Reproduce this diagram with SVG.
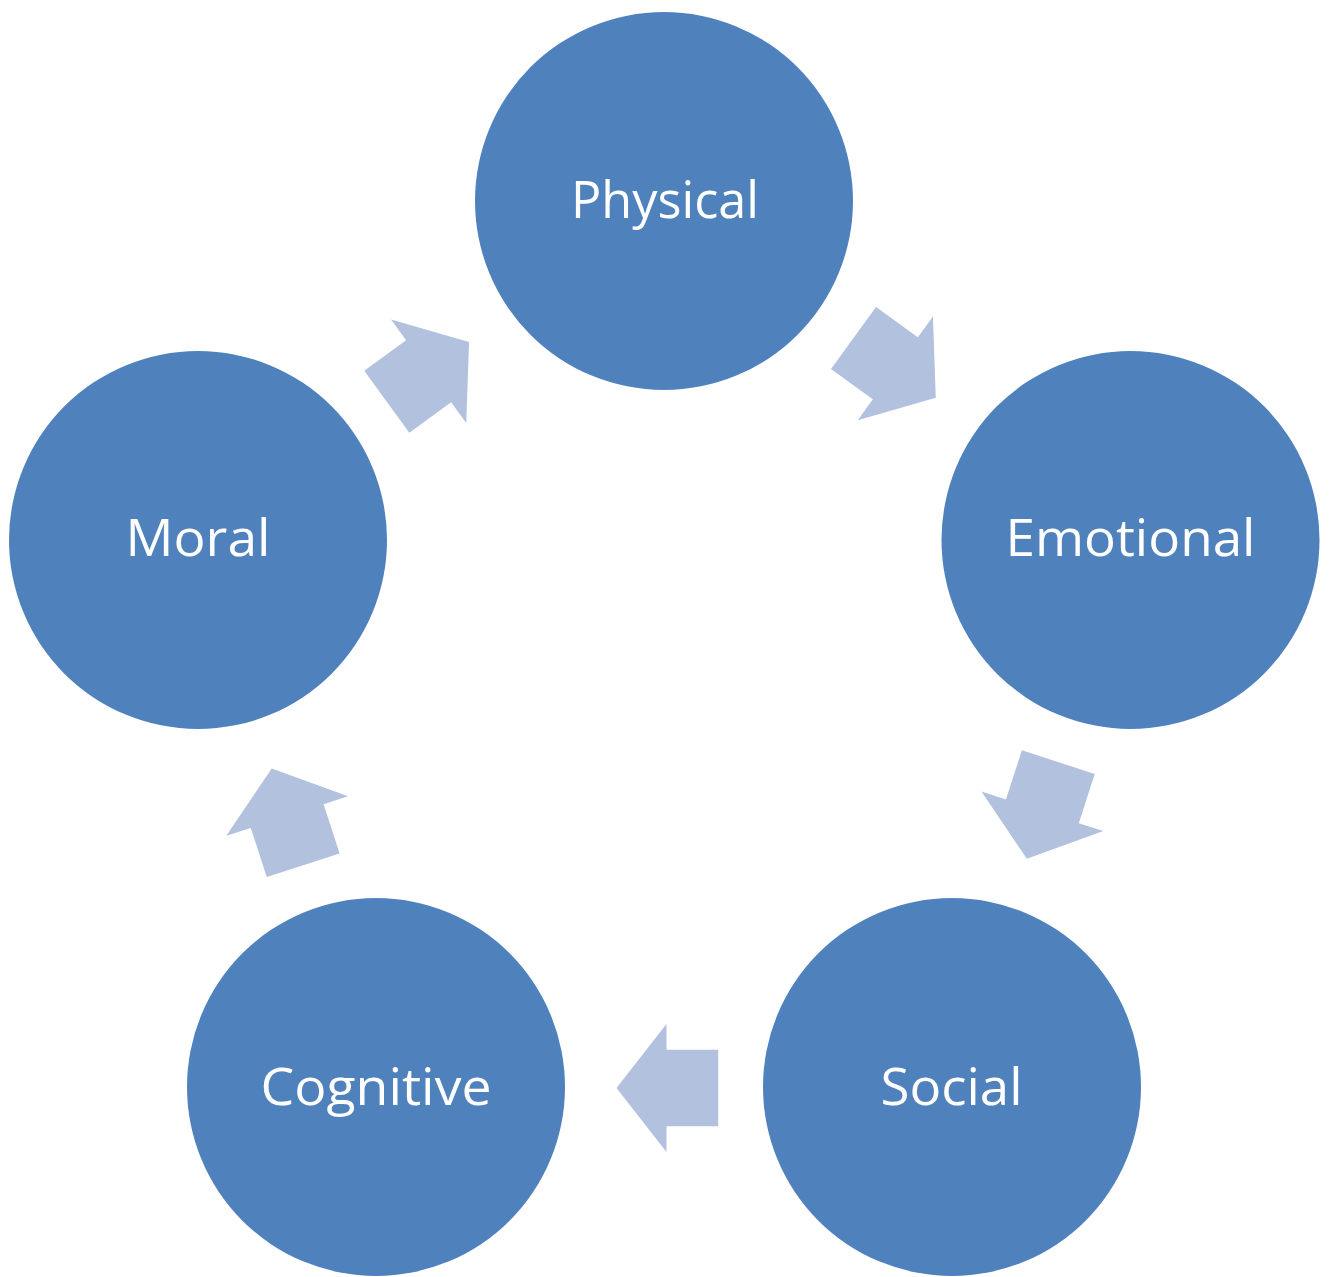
<svg xmlns="http://www.w3.org/2000/svg" width="1330" height="1277" viewBox="0 0 1330 1277">
<style>
.node{fill:#4F81BD}
.lbl{font-family:"Open Sans","Liberation Sans",sans-serif;font-size:52px;fill:#FFFFFF;text-anchor:middle}
.arr{fill:#B2C1DD}
</style>
<defs>
<path id="arrow" d="M 1061 738.5 L 1125 688.5 L 1099.3 688.5 L 1099.3 636.8 L 1022.7 636.8 L 1022.7 688.5 L 997 688.5 Z"/>
</defs>
<rect width="1330" height="1277" fill="#FFFFFF"/>
<g id="connectors">
<use href="#arrow" class="arr" transform="rotate(-54 664 691)"/>
<use href="#arrow" class="arr" transform="rotate(18 664 691)"/>
<use href="#arrow" class="arr" transform="rotate(90 664 691)"/>
<use href="#arrow" class="arr" transform="rotate(162 664 691)"/>
<use href="#arrow" class="arr" transform="rotate(234 664 691)"/>
</g>
<g id="physical"><circle class="node" cx="664" cy="201" r="189"/><text class="lbl" x="665" y="218" textLength="188" lengthAdjust="spacingAndGlyphs">Physical</text></g>
<g id="emotional"><circle class="node" cx="1130.5" cy="540" r="189"/><text class="lbl" x="1130.5" y="556" textLength="250" lengthAdjust="spacingAndGlyphs">Emotional</text></g>
<g id="social"><circle class="node" cx="952" cy="1087" r="189"/><text class="lbl" x="951.5" y="1105" textLength="142" lengthAdjust="spacingAndGlyphs">Social</text></g>
<g id="cognitive"><circle class="node" cx="376" cy="1087" r="189"/><text class="lbl" x="376" y="1105" textLength="231" lengthAdjust="spacingAndGlyphs">Cognitive</text></g>
<g id="moral"><circle class="node" cx="198" cy="540" r="189"/><text class="lbl" x="198" y="556" textLength="145" lengthAdjust="spacingAndGlyphs">Moral</text></g>
</svg>
